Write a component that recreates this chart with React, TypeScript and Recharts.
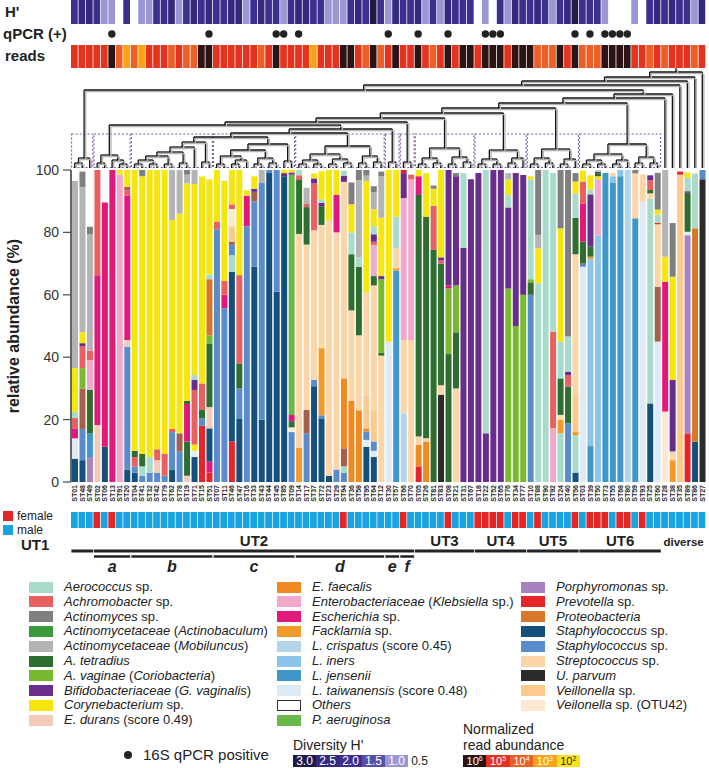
import React from 'react';
import { BarChart, Bar, XAxis, YAxis, Cell, ComposedChart, ReferenceLine, ReferenceArea, Scatter } from 'recharts';

const FONT = '"Liberation Sans", Arial, Helvetica, sans-serif';
const W = 709;
const ML = 71;
const MR = 3;

// ---------------- samples (x order) ----------------
const samplesUT1 = ['ST01', 'ST48', 'ST49'];
const samplesA = ['ST02', 'ST06', 'ST13', 'ST91', 'ST20'];
const samplesB = ['ST04', 'ST41', 'ST32', 'ST42', 'ST79', 'ST62', 'ST78', 'ST19', 'ST71', 'ST15', 'ST51'];
const samplesC = ['ST07', 'ST11', 'ST46', 'ST47', 'ST16', 'ST33', 'ST43', 'ST44', 'ST45', 'ST85', 'ST09'];
const samplesD = ['ST14', 'ST17', 'ST37', 'ST72', 'ST23', 'ST29', 'ST94', 'ST36', 'ST58', 'ST95', 'ST64', 'ST12'];
const samplesEF = ['ST30', 'ST57', 'ST66', 'ST70'];
const samplesUT3 = ['ST05', 'ST26', 'ST81', 'ST83', 'ST08', 'ST21', 'ST31', 'ST67'];
const samplesUT4 = ['ST18', 'ST22', 'ST52', 'ST65', 'ST76', 'ST34', 'ST77'];
const samplesUT5 = ['ST10', 'ST88', 'ST90', 'ST92', 'ST24', 'ST40', 'ST56'];
const samplesUT6 = ['ST03', 'ST39', 'ST50', 'ST73', 'ST55', 'ST68', 'ST80', 'ST59', 'ST93', 'ST25', 'ST60'];
const samplesDiverse = ['ST28', 'ST38', 'ST35', 'ST89', 'ST86', 'ST27'];

// ---------------- composition, bottom -> top (taxon %) ----------------
const compUT1 = [
  'staph1 7.5 ltaiw 6.5 esch 3 achro 3.5 aero 2 coryne 14 mobil 60',
  'staph1 7 staph2 10 brown 13 avag 6.5 achro 7 bifido 1 coryne 3.5 mobil 46.5 actino 5',
  'porph 8 ljens 7.6 tetra 14 entero 9.5 achro 3 mobil 37.3 actino 2.4',
];
const compA = [
  'edurans 18.3 esch 48 achro 33.7',
  'staph1 11.3 esch 78.3',
  'esch 100',
  'entero 98.5 coryne 1.5',
  'staph1 4 staph2 39.4 edurans 2.1 esch 46.3 achro 1.7 brown 1.1 coryne 5.4',
];
const compB = [
  'staph1 3 staph2 2 achro 3 tetra 2 coryne 90',
  'staph2 2 aero 3 tetra 4 coryne 89 actino 2',
  'staph2 3 aero 5 coryne 92',
  'staph2 3 edurans 4 achro 3.5 coryne 89.5',
  'staph2 2 achro 7 coryne 91',
  'staph1 4 staph2 12 achro 1 coryne 67 mobil 16',
  'staph2 9.8 brown 5.8 coryne 70.4 mobil 14',
  'edurans 2 tetra 11 esch 12 tetra 1 coryne 69.7 mobil 2.8 actino 1.5',
  'staph1 8 ltaiw 2 coryne 2 achro 17.5 bifido 3.2 aero 1.6 coryne 61.2 mobil 4.5',
  'prev 18 staph2 2.4 tetra 2.7 achro 8.5 coryne 66.3',
  'prev 3 esch 3.5 staph1 10.7 edurans 6.8 tetra 20.4 avag 2.6 proteo 18 aero 1.5 coryne 30.5',
];
const compC = [
  'staph2 81 achro 2.5 coryne 16.5',
  'staph2 55.7 esch 4.3 achro 4.5 coryne 32',
  'prev 13 staph1 54.4 aero 5.3 staph2 3.3 brown 1 veil 5 veil42 5.5 achro 1.5 coryne 11',
  'staph1 20.4 staph2 9.6 tetra 8 achro 28.3 coryne 33.7',
  'staph2 82 esch 9.8 coryne 1.7',
  'staph1 69 staph2 21 brown 3 bifido 1 coryne 4',
  'staph1 20 staph2 76 mobil 4',
  'staph1 99 staph2 1',
  'staph1 61 staph2 39',
  'staph1 98 bifido 1 coryne 1',
  'staph2 16 veil42 1.5 tetra 2 esch 2 paer 77 bifido 0.7 coryne 0.8',
];
const compD = [
  'fack 11 strep 68.5 tetra 17.3 achro 1.5 aero 1.7',
  'staph2 15.6 brown 7.5 strep 53 tetra 12 achro 1 mobil 5.2',
  'staph1 30.7 staph2 2 strep 48 achro 15 bifido 1.6 coryne 1.6',
  'staph1 20.4 staph2 1 fack 21.5 strep 39.5 tetra 6 bifido 1.1 aero 1.1 coryne 9',
  'staph1 2 strep 82 coryne 16',
  'staph2 4 strep 76 esch 12 coryne 8',
  'staph2 3 aero 2 brown 5.8 efaec 22.4 strep 63 bifido 2 aero 1.6',
  'efaec 26 strep 29 tetra 18 aero 7 coryne 9 actino 7',
  'efaec 23 strep 24 tetra 22 aero 3 mobil 24.8 actino 3.2',
  'staph1 11.3 ltaiw 2.2 staph2 2.7 efaec 1 veil 10.6 strep 33 coryne 35.7 mobil 1.7 actino 1.8',
  'staph1 8 ltaiw 2 staph2 3 veil 10 strep 40 tetra 3 entero 10 achro 1 bifido 2.4 aero 2.6 coryne 5.4 mobil 5.4 actino 2',
  'strep 40.5 tetra 1 avag 23.5 bifido 1 coryne 18.7 mobil 13.3 actino 1.5',
];
const compEF = [
  'ltaiw 45 coryne 55',
  'ljens 67.7 fack 0.8 strep 6.5 aero 10 coryne 15',
  'lcris 22 strep 23.5 entero 45.5 bifido 8 prev 1',
  'strep 45.5 entero 51.5 achro 1.5',
];
const compUT3 = [
  'prev 5 efaec 7 strep 2.6 tetra 77.4 esch 6 coryne 2',
  'efaec 13 strep 1 tetra 71 coryne 14',
  'tetra 74.4 achro 14.1 coryne 5.5 actino 1',
  'upar 28 strep 3 tetra 39 achro 1 bifido 1 coryne 28',
  'tetra 41 avag 21 esch 1 bifido 37',
  'strep 30 tetra 18 avag 15 bifido 35 actino 1',
  'bifido 75 aero 24',
  'bifido 97',
];
const compUT4 = [
  'bifido 99',
  'bifido 15.6 aero 84.4',
  'bifido 100',
  'bifido 100',
  'avag 62 bifido 26 aero 4 coryne 5 mobil 2',
  'avag 50 bifido 49',
  'avag 60 bifido 38.4',
];
const compUT5 = [
  'staph2 60 tetra 4 avag 1 aero 32 coryne 1',
  'aero 63.7 coryne 11.2 mobil 4.3 actino 20.8',
  'aero 100',
  'entero 17.2 achro 31 aero 50.8',
  'aero 15.6 fack 4.3 strep 1.6 tetra 11.7 aero 11.8 coryne 36.3 actino 18.7',
  'staph2 18.8 tetra 11.8 achro 3.7 bifido 1.1 aero 11.2 actino 53.4',
  'staph1 3 aero 12 fack 1 veil 12 strep 45 tetra 11.7 aero 7.8 coryne 3.8 actino 2.7',
];
const compUT6 = [
  'ltaiw 69 staph2 1 tetra 7 esch 12.3 achro 7 coryne 3.5',
  'ljens 11.5 liners 60 fack 0.7 tetra 3.2 bifido 16.8 aero 1.6 coryne 4.5',
  'liners 79 entero 18 coryne 1 tetra 1 bifido 0.5 aero 0.5',
  'ljens 99',
  'ljens 96 liners 2 strep 1',
  'ljens 98 liners 2',
  'lcris 100',
  'ljens 84.5 strep 14.4 actino 1.1',
  'ltaiw 89.9 strep 8.7',
  'staph1 25.2 aero 65.7 strep 1.6 tetra 1.1 achro 3.1 bifido 1.6',
  'ltaiw 45 brown 17.6 strep 20 prev 0.5 aero 2.6 coryne 1.6 actino 11.8',
];
const compDiverse = [
  'veil42 22.6 esch 41.6 coryne 8 mobil 27.8',
  'fack 7 strep 2.8 bifido 22.9 coryne 33.1 actino 17.2',
  'veil 98.5 prev 1',
  'prev 15.6 porph 63.5 ltaiw 1.1 tetra 12.5 bifido 0.5 aero 4.3 coryne 1.7',
  'staph1 12.9 proteo 68.4 aero 17.6',
  'upar 97 staph2 3',
];

// ---------------- per-sample strips ----------------
const hDiversity = [2.2, 2.4, 2.3, 2.1, 1.0, 1.1, 0.5, 2.0, 0.5, 1.0, 0.9, 2.1, 2.2, 2.3, 1.0, 2.2, 2.4, 2.1, 2.3, 2.2, 2.0, 2.3, 2.4, 1.1, 2.2, 2.3, 2.0, 2.2, 1.0, 2.1, 2.3, 2.4, 2.2, 2.0, 1.0, 1.1, 0.9, 2.2, 2.3, 2.1, 3.0, 2.2, 1.0, 2.3, 2.1, 2.2, 2.4, 1.0, 2.2, 1.0, 2.3, 2.1, 2.2, 2.0, 0.5, 1.0, 0.5, 2.2, 1.0, 2.3, 2.1, 2.2, 2.4, 2.0, 1.0, 2.2, 2.3, 3.0, 2.1, 2.2, 2.0, 1.0, 0.5, 0.5, 0.5, 1.0, 0.5, 2.2, 2.3, 2.1, 2.4, 2.2, 2.0, 1.0, 2.3];
const readsExp = [5, 5, 5, 5, 5, 6, 4, 3, 4, 3, 5, 5, 5, 4, 5, 4, 4, 6, 6, 5, 5, 5, 5, 5, 5, 4, 5, 6, 5, 5, 5, 5, 3, 5, 5, 5, 6, 6, 5, 4, 6, 4, 5, 6, 5, 5, 6, 5, 4, 5, 6, 5, 6, 6, 5, 6, 6, 6, 5, 6, 6, 6, 4, 4, 4, 6, 5, 6, 4, 4, 4, 6, 6, 6, 6, 5, 5, 4, 5, 4, 5, 5, 5, 4, 5];
const qpcrPositive = ['ST13', 'ST51', 'ST45', 'ST85', 'ST14', 'ST30', 'ST05', 'ST08', 'ST22', 'ST52', 'ST65', 'ST56', 'ST39', 'ST73', 'ST55', 'ST68', 'ST80'];
const females = ['ST02', 'ST13', 'ST94', 'ST66', 'ST08', 'ST18', 'ST22', 'ST52', 'ST65', 'ST34', 'ST77', 'ST88', 'ST56', 'ST39', 'ST50', 'ST73', 'ST68', 'ST80', 'ST93'];

// ---------------- groups (sample index ranges) ----------------
const utGroups = [
  { label: 'UT1', s: 0, e: 2 },
  { label: 'UT2', s: 3, e: 45 },
  { label: 'UT3', s: 46, e: 53 },
  { label: 'UT4', s: 54, e: 60 },
  { label: 'UT5', s: 61, e: 67 },
  { label: 'UT6', s: 68, e: 78 },
];
const subGroups = [
  { label: 'a', s: 3, e: 7 },
  { label: 'b', s: 8, e: 18 },
  { label: 'c', s: 19, e: 29 },
  { label: 'd', s: 30, e: 41 },
  { label: 'e', s: 42, e: 43 },
  { label: 'f', s: 44, e: 45 },
];
const clusterBoxes = [[0, 2], [3, 7], [8, 18], [19, 29], [30, 41], [42, 43], [44, 45], [46, 53], [54, 60], [61, 67], [68, 78]];

// ---------------- dendrogram (leaf index, [left, right, height]) ----------------
type TreeNode = number | [TreeNode, TreeNode, number];
const treeUT1: TreeNode = [[0, 1, 5], 2, 10];
const treeA: TreeNode = [[3, 4, 5], [5, [6, 7, 4], 8], 13];
const treeB: TreeNode = [[[[[[8, 9, 4], [10, 11, 4], 8], [12, 13, 4], 12], [14, 15, 5], 16], 16, 21], [17, 18, 6], 26];
const treeC: TreeNode = [[[[19, 20, 4], [[21, 22, 4], 23, 8], 12], [[24, 25, 4], [26, 27, 5], 10], 18], [28, 29, 7], 24];
const treeD: TreeNode = [[[[30, 31, 4], [32, 33, 4], 8], [[34, 35, 4], [36, 37, 5], 9], 14], [[38, 39, 5], [40, 41, 6], 12], 22];
const treeE: TreeNode = [42, 43, 6];
const treeF: TreeNode = [44, 45, 6];
const treeUT3: TreeNode = [[[46, 47, 4], [48, 49, 5], 10], [[50, 51, 4], [52, 53, 6], 11], 20];
const treeUT4: TreeNode = [[[54, 55, 4], [56, 57, 4], 9], [[58, 59, 5], 60, 10], 18];
const treeUT5: TreeNode = [[[61, 62, 4], [63, 64, 5], 10], [[65, 66, 4], 67, 9], 19];
const treeUT6: TreeNode = [[[[68, 69, 4], [70, 71, 4], 8], [[72, 73, 4], 74, 8], 14], [[75, 76, 5], [77, 78, 5], 11], 24];
const treeUT2: TreeNode = [[treeA, [[[treeB, treeC, 31], treeD, 35], treeE, 39], 43], treeF, 46];
const treeMain: TreeNode = [[[[[treeUT2, treeUT3, 50], treeUT4, 55], treeUT5, 60], treeUT6, 65], 79, 70];
const treeRoot: TreeNode = [[[[[treeUT1, [treeMain, 80, 74], 78], 81, 83], 82, 87], 83, 91], 84, 96];

// ---------------- colours ----------------
const taxonColor: Record<string, string> = {
  aero: '#a9dbcc', achro: '#e8605f', actino: '#7f7f7f', actinobac: '#3a9a3c', mobil: '#b4b4b4',
  tetra: '#2e6f30', avag: '#79b92f', bifido: '#692d8c', coryne: '#f6e60e', edurans: '#f3cbb8',
  efaec: '#f08a20', entero: '#f2a8cb', esch: '#e2197b', fack: '#f39a2a', lcris: '#b3d5ea',
  liners: '#8cc4ea', ljens: '#3f97c9', ltaiw: '#dcebf6', others: '#ffffff', paer: '#6bb84a',
  porph: '#a682c0', prev: '#e4262b', proteo: '#d7772a', staph1: '#15507c', staph2: '#5a8ccb',
  strep: '#fdd6a8', upar: '#2b2b2b', veil: '#fdc98c', veil42: '#fde9d2', brown: '#a4604a',
};
const legendCols: [string, string][][] = [
  [
    ['aero', '*Aerococcus* sp.'], ['achro', '*Achromobacter* sp.'], ['actino', '*Actinomyces* sp.'],
    ['actinobac', '*Actinomycetaceae* (*Actinobaculum*)'], ['mobil', '*Actinomycetaceae* (*Mobiluncus*)'],
    ['tetra', '*A. tetradius*'], ['avag', '*A. vaginae* (*Coriobacteria*)'],
    ['bifido', '*Bifidobacteriaceae* (*G. vaginalis*)'], ['coryne', '*Corynebacterium* sp.'],
    ['edurans', '*E. durans* (score 0.49)'],
  ],
  [
    ['efaec', '*E. faecalis*'], ['entero', '*Enterobacteriaceae* (*Klebsiella* sp.)'], ['esch', '*Escherichia* sp.'],
    ['fack', '*Facklamia* sp.'], ['lcris', '*L. crispatus* (score 0.45)'], ['liners', '*L. iners*'],
    ['ljens', '*L. jensenii*'], ['ltaiw', '*L. taiwanensis* (score 0.48)'], ['others', '*Others*'],
    ['paer', '*P. aeruginosa*'],
  ],
  [
    ['porph', '*Porphyromonas* sp.'], ['prev', '*Prevotella* sp.'], ['proteo', '*Proteobacteria*'],
    ['staph1', '*Staphylococcus* sp.'], ['staph2', '*Staphylococcus* sp.'], ['strep', '*Streptococcus* sp.'],
    ['upar', '*U. parvum*'], ['veil', '*Veillonella* sp.'], ['veil42', '*Veilonella* sp. (OTU42)'],
  ],
];
const hScale = [3.0, 2.5, 2.0, 1.5, 1.0, 0.5];
const readScale = [6, 5, 4, 3, 2];

const hColor = (h: number) =>
  h >= 2.75 ? '#201a47' : h >= 2.25 ? '#35297f' : h >= 1.75 ? '#3d2f8e' : h >= 1.25 ? '#574ea6' : h >= 0.75 ? '#9b97d5' : '#ffffff';
const readColor = (e: number) =>
  e >= 6 ? '#2d1414' : e >= 5 ? '#e4331f' : e >= 4 ? '#ec5f26' : e >= 3 ? '#f7a41b' : '#f9e21d';

// ---------------- build data ----------------
const samples = [...samplesUT1, ...samplesA, ...samplesB, ...samplesC, ...samplesD, ...samplesEF, ...samplesUT3, ...samplesUT4, ...samplesUT5, ...samplesUT6, ...samplesDiverse];
const compositions = [...compUT1, ...compA, ...compB, ...compC, ...compD, ...compEF, ...compUT3, ...compUT4, ...compUT5, ...compUT6, ...compDiverse];

const parseComp = (s: string): [string, number][] => {
  const t = s.trim().split(/\s+/);
  const out: [string, number][] = [];
  for (let i = 0; i < t.length; i += 2) out.push([t[i], parseFloat(t[i + 1])]);
  return out;
};

let maxLayers = 0;
const rows = samples.map((name, i) => {
  const row: any = { name, x: i, one: 1 };
  const segs = parseComp(compositions[i] || '');
  segs.forEach(([k, v], j) => {
    row['v' + j] = v;
    row['c' + j] = taxonColor[k];
  });
  maxLayers = Math.max(maxLayers, segs.length);
  return row;
});
const layers = Array.from({ length: maxLayers }, (_, j) => j);

const dendroSegs: { x1: number; y1: number; x2: number; y2: number }[] = [];
const layoutTree = (node: TreeNode): { x: number; h: number } => {
  if (typeof node === 'number') return { x: node, h: 0 };
  const [l, r, h] = node;
  const a = layoutTree(l);
  const b = layoutTree(r);
  dendroSegs.push({ x1: a.x, y1: a.h, x2: a.x, y2: h });
  dendroSegs.push({ x1: b.x, y1: b.h, x2: b.x, y2: h });
  dendroSegs.push({ x1: a.x, y1: h, x2: b.x, y2: h });
  return { x: (a.x + b.x) / 2, h };
};
const rootPos = layoutTree(treeRoot);
dendroSegs.push({ x1: rootPos.x, y1: rootPos.h, x2: rootPos.x, y2: 100 });

const annotLabels = [
  ...utGroups.filter((g) => g.label !== 'UT1').map((g) => ({ x: (g.s + g.e) / 2, y: 14, label: g.label, kind: 'ut' })),
  { x: 81.5, y: 14, label: 'diverse', kind: 'div' },
  ...subGroups.map((g) => ({ x: (g.s + g.e) / 2, y: 40, label: g.label, kind: 'sub' })),
];

// ---------------- helpers ----------------
const renderMarkup = (s: string) =>
  s.split('*').map((part, i) => (i % 2 === 1 ? <i key={i}>{part}</i> : <span key={i}>{part}</span>));

const SampleTick = (props: any) => {
  const { x, y, payload } = props;
  return (
    <text transform={`translate(${x},${y}) rotate(-90)`} textAnchor="end" dy="0.35em" fontSize={7} fontWeight={700} fill="#2a2a2a" fontFamily={FONT}>
      {payload.value}
    </text>
  );
};

const dendroLineShape = (p: any) => (
  <g>
    <line x1={p.x1 + 1.6} y1={p.y1 + 1.6} x2={p.x2 + 1.6} y2={p.y2 + 1.6} stroke="#b5b5b5" strokeWidth={1.4} />
    <line x1={p.x1} y1={p.y1} x2={p.x2} y2={p.y2} stroke="#111" strokeWidth={1.3} />
  </g>
);

const AnnotShape = (p: any) => {
  const d = p.payload;
  if (d.kind === 'sub') {
    return <text x={p.cx} y={p.cy} textAnchor="middle" fontSize={16} fontWeight={700} fontStyle="italic" fill="#222" fontFamily={FONT}>{d.label}</text>;
  }
  if (d.kind === 'div') {
    return <text x={p.cx} y={p.cy} textAnchor="middle" fontSize={11.5} fontWeight={700} fill="#222" fontFamily={FONT}>{d.label}</text>;
  }
  return (
    <text x={p.cx} y={p.cy} textAnchor="middle" fontSize={15} fontWeight={700} fill="#222" fontFamily={FONT}>
      {d.label}
    </text>
  );
};

const Abs = ({ left = 0, top, children }: any) => (
  <div style={{ position: 'absolute', left, top }}>{children}</div>
);

export default function App() {
  const stripMargin = { top: 0, right: MR, bottom: 0, left: ML };
  return (
    <div style={{ position: 'absolute', left: 0, top: 0, width: W, height: 768, background: '#fff', fontFamily: FONT, overflow: 'hidden', color: '#222' }}>
      {/* row titles */}
      <div style={{ position: 'absolute', left: 5, top: 3, fontSize: 15, fontWeight: 700 }}>H'</div>
      <div style={{ position: 'absolute', left: 3, top: 25, fontSize: 15, fontWeight: 700 }}>qPCR (+)</div>
      <div style={{ position: 'absolute', left: 5, top: 47, fontSize: 15, fontWeight: 700 }}>reads</div>

      {/* H' strip */}
      <Abs top={0}>
        <BarChart width={W} height={24} data={rows} margin={stripMargin} barCategoryGap={0} barGap={0}>
          <XAxis dataKey="name" hide />
          <YAxis hide domain={[0, 1]} />
          <Bar dataKey="one" barSize={8} isAnimationActive={false}>
            {rows.map((r, i) => <Cell key={i} fill={hColor(hDiversity[i])} />)}
          </Bar>
        </BarChart>
      </Abs>

      {/* qPCR dots */}
      <Abs top={27}>
        <BarChart width={W} height={14} data={rows} margin={stripMargin} barCategoryGap={0}>
          <XAxis dataKey="name" hide />
          <YAxis hide domain={[0, 1]} />
          <Bar
            dataKey="one"
            isAnimationActive={false}
            shape={(p: any) =>
              qpcrPositive.includes(p.payload.name) ? (
                <circle cx={p.x + p.width / 2} cy={p.y + p.height / 2} r={3.7} fill="#222" />
              ) : (
                <g />
              )
            }
          />
        </BarChart>
      </Abs>

      {/* reads strip */}
      <Abs top={45}>
        <BarChart width={W} height={23} data={rows} margin={stripMargin} barCategoryGap={0} barGap={0}>
          <XAxis dataKey="name" hide />
          <YAxis hide domain={[0, 1]} />
          <Bar dataKey="one" barSize={8} isAnimationActive={false}>
            {rows.map((r, i) => <Cell key={i} fill={readColor(readsExp[i])} />)}
          </Bar>
        </BarChart>
      </Abs>

      {/* dendrogram */}
      <Abs top={68}>
        <ComposedChart width={W} height={100} data={rows} margin={{ top: 0, right: MR, bottom: 0, left: ML }}>
          <XAxis type="number" dataKey="x" domain={[-0.5, 84.5]} hide allowDataOverflow />
          <YAxis type="number" domain={[0, 100]} hide allowDataOverflow />
          {clusterBoxes.map(([s, e], i) => (
            <ReferenceArea key={'b' + i} x1={s - 0.42} x2={e + 0.42} y1={0.5} y2={34} fill="none" stroke="#7d5aa6" strokeWidth={1.1} strokeDasharray="2 2" ifOverflow="visible" />
          ))}
          {dendroSegs.map((s, i) => (
            <ReferenceLine key={'d' + i} segment={[{ x: s.x1, y: s.y1 }, { x: s.x2, y: s.y2 }]} ifOverflow="visible" shape={dendroLineShape} />
          ))}
        </ComposedChart>
      </Abs>

      {/* main stacked bars */}
      <Abs top={160}>
        <BarChart width={W} height={352} data={rows} margin={{ top: 10, right: MR, bottom: 0, left: 0 }} barCategoryGap={0} barGap={0}>
          <XAxis dataKey="name" interval={0} tick={<SampleTick />} tickLine={false} axisLine={false} tickSize={0} tickMargin={3} height={30} />
          <YAxis
            type="number"
            domain={[0, 100]}
            ticks={[0, 20, 40, 60, 80, 100]}
            width={71}
            tickSize={8}
            tickMargin={4}
            axisLine={{ stroke: '#333', strokeWidth: 1.5 }}
            tickLine={{ stroke: '#555', strokeWidth: 1.3 }}
            tick={{ fontSize: 14, fill: '#333', fontFamily: FONT }}
            allowDataOverflow
            label={{ value: 'relative abundance (%)', angle: -90, position: 'center', dx: -22, style: { fontSize: 16, fontWeight: 700, fill: '#222', fontFamily: FONT } }}
          />
          {layers.map((j) => (
            <Bar key={j} dataKey={'v' + j} stackId="s" barSize={6} isAnimationActive={false}>
              {rows.map((r, i) => <Cell key={i} fill={r['c' + j] || 'none'} />)}
            </Bar>
          ))}
        </BarChart>
      </Abs>

      {/* sex strip */}
      <Abs top={512}>
        <BarChart width={W} height={16} data={rows} margin={stripMargin} barCategoryGap={0} barGap={0}>
          <XAxis dataKey="name" hide />
          <YAxis hide domain={[0, 1]} />
          <Bar dataKey="one" barSize={8} isAnimationActive={false}>
            {rows.map((r, i) => <Cell key={i} fill={females.includes(r.name) ? '#e32727' : '#1aa3e1'} />)}
          </Bar>
        </BarChart>
      </Abs>
      <div style={{ position: 'absolute', left: 3, top: 511, width: 10, height: 10, background: '#e32727' }} />
      <div style={{ position: 'absolute', left: 17, top: 510, fontSize: 12, lineHeight: '12px' }}>female</div>
      <div style={{ position: 'absolute', left: 3, top: 525, width: 10, height: 10, background: '#1aa3e1' }} />
      <div style={{ position: 'absolute', left: 17, top: 524, fontSize: 12, lineHeight: '12px' }}>male</div>

      {/* UT groups & sub-clusters */}
      <div style={{ position: 'absolute', left: 21, top: 537, fontSize: 15, fontWeight: 700, lineHeight: '15px' }}>UT1</div>
      <Abs top={532}>
        <ComposedChart width={W} height={45} data={annotLabels} margin={{ top: 0, right: MR, bottom: 0, left: ML }}>
          <XAxis type="number" dataKey="x" domain={[-0.5, 84.5]} hide allowDataOverflow />
          <YAxis type="number" dataKey="y" domain={[0, 45]} reversed hide allowDataOverflow />
          {utGroups.map((g, i) => (
            <ReferenceLine key={'u' + i} segment={[{ x: g.s - 0.45, y: 19 }, { x: g.e + 0.45, y: 19 }]} stroke="#222" strokeWidth={3} ifOverflow="visible" />
          ))}
          {subGroups.map((g, i) => (
            <ReferenceLine key={'s' + i} segment={[{ x: g.s - 0.42, y: 24.5 }, { x: g.e + 0.42, y: 24.5 }]} stroke="#222" strokeWidth={2.5} ifOverflow="visible" />
          ))}
          <Scatter dataKey="y" isAnimationActive={false} shape={AnnotShape} />
        </ComposedChart>
      </Abs>

      {/* taxa legend */}
      {legendCols.map((col, ci) =>
        col.map(([k, label], ri) => {
          const sx = [29, 277, 521][ci];
          const cy = 587 + ri * 14.8;
          return (
            <React.Fragment key={k + ri}>
              <div
                style={{
                  position: 'absolute', left: sx, top: cy - 5.5, width: 24, height: 11,
                  background: taxonColor[k], boxSizing: 'border-box', border: k === 'others' ? '1px solid #333' : 'none',
                }}
              />
              <div style={{ position: 'absolute', left: sx + 35, top: cy - 8, fontSize: 13, lineHeight: '16px', whiteSpace: 'nowrap', color: '#222' }}>
                {renderMarkup(label)}
              </div>
            </React.Fragment>
          );
        })
      )}

      {/* qPCR legend */}
      <div style={{ position: 'absolute', left: 124, top: 751, width: 8, height: 8, borderRadius: 4, background: '#222' }} />
      <div style={{ position: 'absolute', left: 143, top: 746, fontSize: 15, lineHeight: '18px' }}>16S qPCR positive</div>

      {/* diversity scale */}
      <div style={{ position: 'absolute', left: 293, top: 737, fontSize: 14, lineHeight: '16px' }}>Diversity H'</div>
      <div style={{ position: 'absolute', left: 293, top: 755, display: 'flex' }}>
        {hScale.map((h) => (
          <div key={h} style={{ width: 23, height: 12, background: hColor(h), color: h > 0.75 ? '#fff' : '#222', fontSize: 12, lineHeight: '12px', textAlign: 'center' }}>
            {h.toFixed(1)}
          </div>
        ))}
      </div>

      {/* read abundance scale */}
      <div style={{ position: 'absolute', left: 463, top: 721, fontSize: 14, lineHeight: '16px' }}>Normalized<br />read abundance</div>
      <div style={{ position: 'absolute', left: 463, top: 755, display: 'flex' }}>
        {readScale.map((e) => (
          <div key={e} style={{ width: 23.4, height: 12, background: readColor(e), color: e >= 3 ? '#fff' : '#222', fontSize: 11, lineHeight: '13px', textAlign: 'center' }}>
            10<sup style={{ fontSize: 7, verticalAlign: 'top', lineHeight: '8px' }}>{e}</sup>
          </div>
        ))}
      </div>
    </div>
  );
}
